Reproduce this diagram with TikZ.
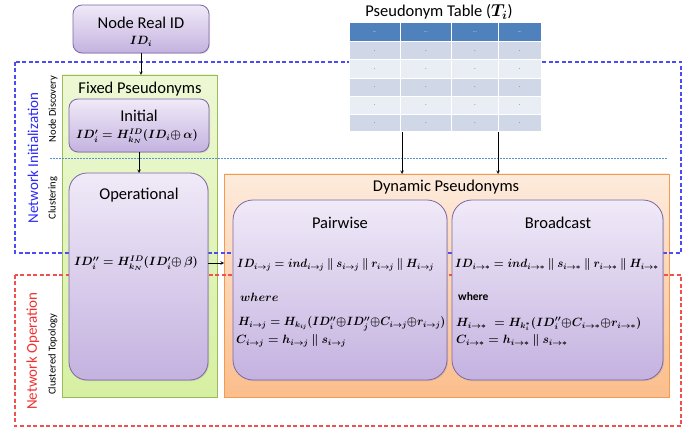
\documentclass[tikz,border=0pt]{standalone}
\usepackage{fontspec}
\setmainfont{Carlito}
\usepackage{amsmath,bm,graphicx}
\usetikzlibrary{shadows}
\definecolor{purpTop}{HTML}{F0EAF8}
\definecolor{purpBot}{HTML}{C4B2E0}
\definecolor{purpLine}{HTML}{7E67A8}
\definecolor{grnTop}{HTML}{EDF8D4}
\definecolor{grnBot}{HTML}{D6F0A2}
\definecolor{grnLine}{HTML}{9BBB59}
\definecolor{orTop}{HTML}{FDEBDC}
\definecolor{orBot}{HTML}{FBBE8C}
\definecolor{orLine}{HTML}{F59A4E}
\definecolor{tabHead}{HTML}{4F81BD}
\definecolor{tabA}{HTML}{D0D8E8}
\definecolor{tabB}{HTML}{E9EDF4}
\definecolor{netBlue}{HTML}{2B2BF5}
\definecolor{netRed}{HTML}{F03030}
\definecolor{sepBlue}{HTML}{5B8FD0}
\newcommand{\xop}{\mathord{\oplus}}
\newcommand{\xpar}{\mathbin{\parallel}}
\tikzset{
  purpbox/.style={draw=purpLine, line width=0.8pt, top color=purpTop, bottom color=purpBot,
     drop shadow={opacity=0.25, shadow xshift=1pt, shadow yshift=-1pt}},
  contgreen/.style={draw=grnLine, line width=0.8pt, top color=grnTop, bottom color=grnBot,
     drop shadow={opacity=0.2, shadow xshift=1pt, shadow yshift=-1pt}},
  contorange/.style={draw=orLine, line width=0.8pt, top color=orTop, bottom color=orBot,
     drop shadow={opacity=0.2, shadow xshift=1pt, shadow yshift=-1pt}},
  netframe/.style={dashed, dash pattern=on 4pt off 2.5pt, line width=1.1pt},
  arr/.style={-stealth, line width=0.6pt, black},
  title/.style={font=\fontsize{16.5}{18}\selectfont, anchor=center, inner sep=0pt},
  formula/.style={font=\fontsize{11.5}{13}\selectfont\boldmath, inner sep=0pt},
  sidelabel/.style={rotate=90, anchor=center, inner sep=0pt},
  cell/.style={fill=#1, draw=white, line width=1pt},
}
\begin{document}
\begin{tikzpicture}[x=1pt,y=-1pt]
\useasboundingbox (0,0) rectangle (699,430);

% containers
\path[contgreen] (62,75) rectangle (217,397);
\path[contorange] (224,174) rectangle (669,397);

% network frames
\draw[netframe, netBlue!85] (15,62) rectangle (681,253);
\draw[netframe, netRed!85] (15,275) rectangle (681,426);
\draw[sepBlue, dashed, dash pattern=on 2pt off 1pt, line width=0.8pt] (50,158) -- (668,158);

% named anchor coordinates
\coordinate (greenTop) at (141,75);
\coordinate (orangeLeft) at (224,263);
\coordinate (orTopA) at (402,174);
\coordinate (orTopB) at (498,174);

% purple boxes
\path[purpbox, rounded corners=9pt] (73,5) rectangle (209,53);
\node[title] (realid) at (141,23) {Node Real ID};
\node[formula] (realidf) at (141,41) {$ID_i$};
\coordinate (realidB) at (141,53);

\node[title] (fixed) at (140,89) {Fixed Pseudonyms};
\path[purpbox, rounded corners=9pt] (69,99) rectangle (209,152);
\node[title] (initial) at (139,116) {Initial};
\node[formula] (initf) at (137,136) {$ID'_i = H^{ID}_{k_N}(ID_i\xop\, \alpha)$};
\coordinate (initB) at (139,152);
\coordinate (operT) at (139,173);

\path[purpbox, rounded corners=18pt] (69,173) rectangle (208,380);
\node[title] (oper) at (139,195) {Operational};
\node[formula] (operf) at (136,263) {$ID''_i = H^{ID}_{k_N}(ID'_i\xop\, \beta)$};
\coordinate (operR) at (208,263);

\node[title] (dyn) at (446,187) {Dynamic Pseudonyms};

\path[purpbox, rounded corners=20pt] (233,200) rectangle (447,380);
\node[title] (pair) at (340,223) {Pairwise};
\node[formula, anchor=west] (pairf1) at (237,265)
  {\scalebox{0.93}[1]{$ID_{i\to j} = ind_{i\to j} \xpar s_{i\to j} \xpar r_{i\to j} \xpar H_{i\to j}$}};
\node[formula, anchor=west] (pairw) at (240,297) {$where$};
\node[formula, anchor=west] (pairf2) at (238,324)
  {\scalebox{0.95}[1]{$H_{i\to j} = H_{k_{ij}}(ID''_i\xop ID''_j\xop C_{i\to j}\xop r_{i\to j})$}};
\node[formula, anchor=west] (pairf3) at (236,341)
  {$C_{i\to j} = h_{i\to j} \xpar s_{i\to j}$};

\path[purpbox, rounded corners=20pt] (452,200) rectangle (663,380);
\node[title] (broad) at (558,223) {Broadcast};
\node[formula, anchor=west] (brf1) at (455,265)
  {\scalebox{0.95}[1]{$ID_{i\to *} = ind_{i\to *} \xpar s_{i\to *} \xpar r_{i\to *} \xpar H_{i\to *}$}};
\node[anchor=west, inner sep=0pt, font=\fontsize{11.5}{13}\selectfont\bfseries] (brw) at (458,297) {where};
\node[formula, anchor=west] (brf2) at (456,324)
  {$H_{i\to *} \; = H_{k_i^*}(ID''_i\xop C_{i\to *}\xop r_{i\to *})$};
\node[formula, anchor=west] (brf3) at (456,341)
  {$C_{i\to *} = h_{i\to *} \xpar s_{i\to *}$};

% pseudonym table
\node[title] (ttitle) at (439,12) {Pseudonym Table ($\bm{T_i}$)};
\foreach \xa/\xb [count=\c] in {349/400.5, 400.5/451.5, 451.5/498.5, 498.5/541} {
  \path[cell=tabHead] (\xa,23) rectangle (\xb,42);
  \node[white, font=\tiny, inner sep=0pt] (h\c) at ({(\xa+\xb)/2},32) {...};
  \foreach \ya/\yb [count=\r] in {42/60, 60/78.5, 78.5/96.5, 96.5/114.5, 114.5/132} {
    \pgfmathsetmacro{\shade}{mod(\r,2)}
    \ifdim\shade pt=1pt
      \path[cell=tabA] (\xa,\ya) rectangle (\xb,\yb);
    \else
      \path[cell=tabB] (\xa,\ya) rectangle (\xb,\yb);
    \fi
    \node[font=\tiny, inner sep=0pt] (d\c\r) at ({(\xa+\xb)/2},{(\ya+\yb)/2}) {.};
  }
}
\coordinate (tabA) at (402,132);
\coordinate (tabB) at (498,132);

% arrows
\draw[arr] (realidB) -- (greenTop);
\draw[arr] (initB) -- (operT);
\draw[arr] (operR) -- (orangeLeft);
\draw[arr] (tabA) -- (orTopA);
\draw[arr] (tabB) -- (orTopB);

% side labels
\node[sidelabel, netBlue, font=\fontsize{15}{17}\selectfont] (ni) at (33,158) {Network Initialization};
\node[sidelabel, netRed, font=\fontsize{15}{17}\selectfont] (no) at (33,351) {Network Operation};
\node[sidelabel, font=\fontsize{10.5}{12}\selectfont] (nd) at (53,109) {Node Discovery};
\node[sidelabel, font=\fontsize{10.5}{12}\selectfont] (cl) at (53,198) {Clustering};
\node[sidelabel, font=\fontsize{10.5}{12}\selectfont] (ct) at (53,354) {Clustered Topology};
\end{tikzpicture}
\end{document}
